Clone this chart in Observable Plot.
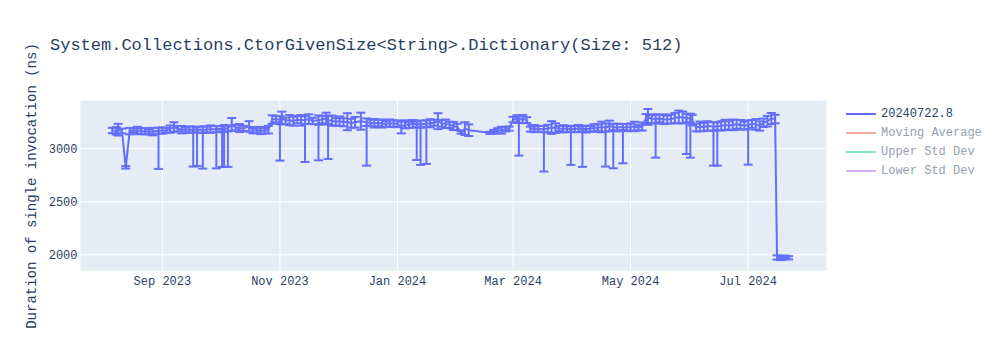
<!DOCTYPE html>
<html><head><meta charset="utf-8">
<script src="https://cdn.jsdelivr.net/npm/d3@7"></script>
<script src="https://cdn.jsdelivr.net/npm/@observablehq/plot@0.6"></script>
<style>
body{margin:0;background:#fff;}
#wrap{position:relative;width:1000px;height:350px;font-family:"Liberation Mono","Courier New",monospace;color:#2a3f5f;}
#chart{position:absolute;left:0;top:0;}
#title{position:absolute;left:50px;top:37px;font-size:17px;line-height:17px;white-space:pre;}
#ylab{position:absolute;left:32px;top:186px;font-size:14px;line-height:14px;white-space:pre;transform:translate(-50%,-50%) rotate(-90deg);}
.leg{position:absolute;left:846px;height:14px;font-size:12px;line-height:14px;white-space:pre;}
.leg span.sw{position:absolute;left:0;top:6px;width:30px;height:2px;}
.leg span.tx{position:absolute;left:35px;top:0;}
</style></head>
<body>
<div id="wrap">
  <div id="chart"></div>
  <div id="title"></div>
  <div id="ylab"></div>
</div>
<script>
// ---- data ----
const chartTitle = "System.Collections.CtorGivenSize<String>.Dictionary(Size: 512)";
const yTitle = "Duration of single invocation (ns)";
const legendNames = ["20240722.8", "Moving Average", "Upper Std Dev", "Lower Std Dev"];
const legendColors = ["#636efa", "#EF553B", "#00cc96", "#ab63fa"];
const legendShown = [true, false, false, false];
const xTicks = ["2023-09-01", "2023-11-01", "2024-01-01", "2024-03-01", "2024-05-01", "2024-07-01"];
const yTicks = [2000, 2500, 3000];

const dates = [
 "2023-08-06","2023-08-08","2023-08-09","2023-08-11","2023-08-13","2023-08-15","2023-08-17","2023-08-19","2023-08-21","2023-08-23","2023-08-25","2023-08-27","2023-08-30",
 "2023-09-01","2023-09-03","2023-09-05","2023-09-07","2023-09-09","2023-09-11","2023-09-13","2023-09-15","2023-09-17","2023-09-19","2023-09-22","2023-09-24","2023-09-26","2023-09-29",
 "2023-10-02","2023-10-03","2023-10-05","2023-10-07","2023-10-09","2023-10-11","2023-10-13","2023-10-16","2023-10-18","2023-10-20","2023-10-22","2023-10-24","2023-10-26","2023-10-28","2023-10-30",
 "2023-11-01","2023-11-02","2023-11-04","2023-11-06","2023-11-08","2023-11-10","2023-11-12","2023-11-14","2023-11-16","2023-11-18","2023-11-21","2023-11-23","2023-11-25","2023-11-26","2023-11-28","2023-11-30",
 "2023-12-02","2023-12-04","2023-12-06","2023-12-08","2023-12-10","2023-12-13","2023-12-16","2023-12-18","2023-12-20","2023-12-22","2023-12-24","2023-12-26","2023-12-28","2023-12-30",
 "2024-01-01","2024-01-03","2024-01-05","2024-01-07","2024-01-09","2024-01-11","2024-01-13","2024-01-16","2024-01-18","2024-01-20","2024-01-22","2024-01-24","2024-01-26","2024-01-28","2024-01-30",
 "2024-02-01","2024-02-03","2024-02-05","2024-02-07","2024-02-18","2024-02-20","2024-02-22","2024-02-24","2024-02-26","2024-02-28",
 "2024-03-01","2024-03-03","2024-03-04","2024-03-06","2024-03-08","2024-03-10","2024-03-12","2024-03-14","2024-03-17","2024-03-19","2024-03-21","2024-03-23","2024-03-25","2024-03-27","2024-03-29","2024-03-31",
 "2024-04-02","2024-04-04","2024-04-06","2024-04-08","2024-04-10","2024-04-12","2024-04-14","2024-04-16","2024-04-18","2024-04-20","2024-04-22","2024-04-24","2024-04-27","2024-04-29",
 "2024-05-01","2024-05-03","2024-05-05","2024-05-07","2024-05-09","2024-05-10","2024-05-12","2024-05-14","2024-05-16","2024-05-18","2024-05-20","2024-05-22","2024-05-24","2024-05-26","2024-05-28","2024-05-30",
 "2024-06-01","2024-06-02","2024-06-04","2024-06-06","2024-06-08","2024-06-10","2024-06-13","2024-06-15","2024-06-17","2024-06-19","2024-06-21","2024-06-23","2024-06-25","2024-06-27","2024-06-29",
 "2024-07-01","2024-07-03","2024-07-05","2024-07-07","2024-07-09","2024-07-11","2024-07-13","2024-07-15","2024-07-16","2024-07-18","2024-07-20","2024-07-22"
];
const means = [
 3172,3170,3180,3168,2825,3166,3170,3172,3168,3165,3160,3162,3170,
 3172,3175,3185,3205,3190,3180,3178,3180,3182,3178,3180,3182,3185,3185,
 3188,3190,3192,3230,3200,3195,3192,3210,3175,3170,3172,3170,3180,3275,3280,
 3270,3290,3265,3270,3260,3275,3268,3270,3280,3262,3270,3275,3285,3270,3265,3255,
 3260,3250,3255,3240,3250,3260,3250,3245,3240,3242,3238,3235,3240,3238,
 3235,3200,3230,3225,3235,3230,3232,3238,3240,3245,3260,3240,3235,3225,3215,
 3205,3155,3190,3175,3150,3160,3170,3175,3185,3190,
 3275,3280,3275,3280,3270,3185,3190,3188,3185,3190,3200,3195,3190,3188,3185,3187,
 3185,3190,3188,3185,3190,3195,3200,3205,3200,3215,3205,3200,3205,3200,
 3205,3210,3200,3210,3285,3300,3280,3282,3285,3278,3275,3280,3290,3300,3295,3290,
 3285,3270,3200,3210,3205,3215,3210,3212,3215,3225,3220,3225,3230,3225,3220,
 3225,3235,3230,3215,3245,3260,3285,3280,1975,1965,1975,1972
];
const spread = [
 25,35,55,22,12,30,20,35,25,30,22,35,28,
 30,22,35,45,25,35,22,30,28,24,32,26,35,28,
 24,34,28,60,26,38,24,50,30,22,34,26,36,40,30,
 38,60,30,48,42,34,50,36,45,30,44,36,55,40,48,34,
 45,38,80,42,50,80,36,28,40,30,38,26,36,30,
 32,55,38,28,36,26,34,30,38,28,75,32,40,30,38,
 30,12,60,55,10,18,24,32,22,20,
 26,36,30,38,28,24,34,26,30,36,60,45,24,34,26,30,
 28,34,24,32,26,36,30,50,38,50,30,36,28,34,
 34,45,26,38,42,75,36,44,34,46,38,42,48,60,55,40,
 45,50,36,46,38,44,40,36,44,48,38,50,42,46,36,
 42,36,50,44,40,50,52,40,20,15,18,15
];
// long downward error bars (low end of the bar)
const dipDates = [
 "2023-08-30","2023-09-17","2023-09-19","2023-09-22","2023-09-29","2023-10-02","2023-10-03","2023-10-05",
 "2023-11-01","2023-11-14","2023-11-21","2023-11-26","2023-12-16",
 "2024-01-11","2024-01-13","2024-01-16","2024-03-04","2024-03-17","2024-03-31","2024-04-06",
 "2024-04-18","2024-04-22","2024-04-27","2024-05-14","2024-05-30","2024-06-01","2024-06-13","2024-06-15","2024-07-01"
];
const dipLows = [
 2810,2832,2838,2813,2815,2829,2829,2829,
 2888,2875,2891,2904,2841,
 2894,2848,2857,2935,2785,2848,2829,
 2832,2816,2863,2916,2950,2916,2841,2841,2850
];

// ---- build ----
const color = legendColors[0];
const data = dates.map((d, i) => ({date: new Date(d), mean: means[i], lo: means[i] - spread[i], hi: means[i] + spread[i]}));
const dips = dipDates.map((d, i) => ({date: new Date(d), low: dipLows[i], mean: means[dates.indexOf(d)]}));
const cap = {draw(ctx, size) { const w = Math.sqrt(size / Math.PI); ctx.moveTo(-w, 0); ctx.lineTo(w, 0); }};
const font = '"Liberation Mono","Courier New",monospace';

const chart = Plot.plot({
  width: 1000, height: 350,
  marginLeft: 80, marginRight: 174, marginTop: 100, marginBottom: 80,
  style: {fontFamily: font, fontSize: "12px", color: "#2a3f5f", background: "transparent", overflow: "visible"},
  x: {type: "utc", domain: [new Date("2023-07-20T12:00Z"), new Date("2024-08-10T16:00Z")], ticks: xTicks.map(d => new Date(d)),
      tickFormat: d3.utcFormat("%b %Y"), tickSize: 0, tickPadding: 6, label: null},
  y: {domain: [1852, 3455], ticks: yTicks, tickSize: 0, tickPadding: 3, label: null, tickFormat: d => String(d)},
  marks: [
    Plot.frame({fill: "#e5ecf6", stroke: null}),
    Plot.gridX(xTicks.map(d => new Date(d)), {stroke: "white", strokeOpacity: 1, strokeWidth: 1}),
    Plot.gridY(yTicks, {stroke: "white", strokeOpacity: 1, strokeWidth: 1}),
    Plot.ruleX(data, {x: "date", y1: "lo", y2: "hi", stroke: color, strokeWidth: 2}),
    Plot.ruleX(dips, {x: "date", y1: "low", y2: "mean", stroke: color, strokeWidth: 2}),
    Plot.dot(data, {x: "date", y: "lo", symbol: cap, r: 4.5, stroke: color, strokeWidth: 2, fill: "none"}),
    Plot.dot(data, {x: "date", y: "hi", symbol: cap, r: 4.5, stroke: color, strokeWidth: 2, fill: "none"}),
    Plot.dot(dips, {x: "date", y: "low", symbol: cap, r: 4.5, stroke: color, strokeWidth: 2, fill: "none"}),
    Plot.lineY(data, {x: "date", y: "mean", stroke: color, strokeWidth: 2, curve: "linear"})
  ]
});
document.getElementById("chart").appendChild(chart);
document.getElementById("title").textContent = chartTitle;
document.getElementById("ylab").textContent = yTitle;

const wrap = document.getElementById("wrap");
const legTops = [107, 126, 145, 164];
legendNames.forEach((name, i) => {
  const item = document.createElement("div");
  item.className = "leg";
  item.style.top = legTops[i] + "px";
  item.style.opacity = legendShown[i] ? 1 : 0.5;
  const sw = document.createElement("span");
  sw.className = "sw";
  sw.style.background = legendColors[i];
  const tx = document.createElement("span");
  tx.className = "tx";
  tx.textContent = name;
  item.appendChild(sw); item.appendChild(tx);
  wrap.appendChild(item);
});
</script>
</body></html>
